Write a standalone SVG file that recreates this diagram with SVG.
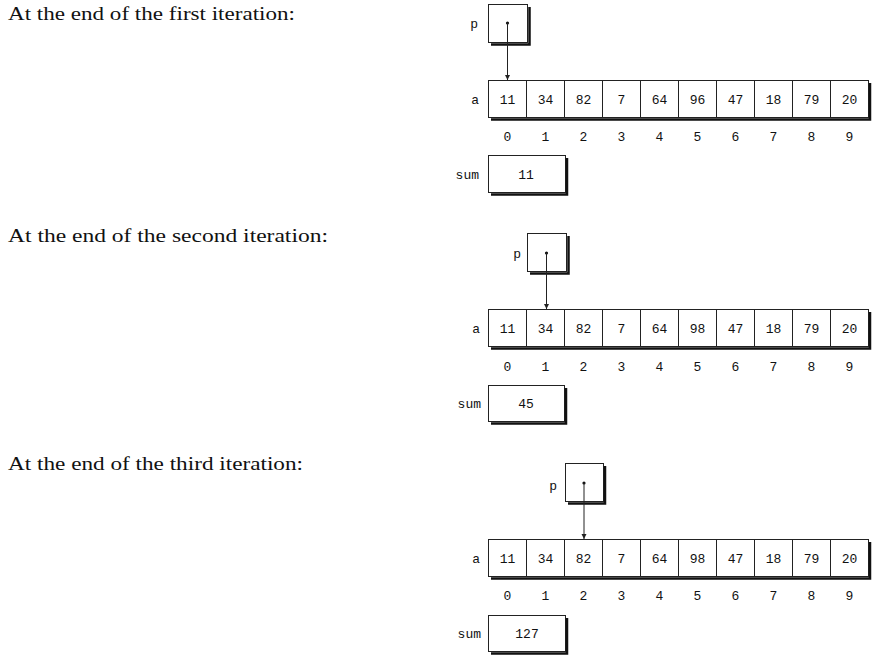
<svg xmlns="http://www.w3.org/2000/svg" width="883" height="658" viewBox="0 0 883 658">
<defs>
<style>
.cap{font-family:"Liberation Serif","Times New Roman",serif;font-size:19.5px;fill:#111}
.m{font-family:"Liberation Mono","Courier New",monospace;font-size:13px;fill:#111;text-anchor:middle}
.lbl{font-family:"Liberation Mono","Courier New",monospace;font-size:13px;fill:#111;text-anchor:end}
.box{fill:#fff;stroke:#222;stroke-width:1}
.sh{fill:none;stroke:#111;stroke-width:2.5}
.div{stroke:#222;stroke-width:1}
.ptr{stroke:#222;stroke-width:1;fill:none}
</style>
<marker id="ah" markerWidth="6" markerHeight="6" refX="5" refY="3" orient="auto" markerUnits="userSpaceOnUse">
<path d="M0,0.5 L5,3 L0,5.5 Z" fill="#222"/>
</marker>
</defs>
<rect width="883" height="658" fill="#fff"/>

<g id="captions">
<text class="cap" x="8" y="20" textLength="287" lengthAdjust="spacingAndGlyphs">At the end of the first iteration:</text>
<text class="cap" x="8" y="242" textLength="320" lengthAdjust="spacingAndGlyphs">At the end of the second iteration:</text>
<text class="cap" x="8" y="470" textLength="295" lengthAdjust="spacingAndGlyphs">At the end of the third iteration:</text>
</g>

<!-- Diagram 1 -->
<g id="p1">
<text class="lbl" x="478" y="28">p</text>
<rect class="box" x="488.5" y="4.5" width="39" height="38"/>
<path class="sh" d="M529.5,7 V44.5 H491"/>
<circle cx="507.5" cy="23" r="1.6" fill="#111"/>
</g>
<g id="a1">
<text class="lbl" x="479" y="104">a</text>
<rect class="box" x="488.5" y="80.5" width="380" height="37"/>
<path class="sh" d="M870,83 V119.5 H491"/>
<path class="div" d="M526.5,80.5V117.5M564.5,80.5V117.5M602.5,80.5V117.5M640.5,80.5V117.5M678.5,80.5V117.5M716.5,80.5V117.5M754.5,80.5V117.5M792.5,80.5V117.5M830.5,80.5V117.5"/>
<g class="m">
<text x="507.5" y="104">11</text><text x="545.5" y="104">34</text><text x="583.5" y="104">82</text><text x="621.5" y="104">7</text><text x="659.5" y="104">64</text><text x="697.5" y="104">96</text><text x="735.5" y="104">47</text><text x="773.5" y="104">18</text><text x="811.5" y="104">79</text><text x="849.5" y="104">20</text>
<text x="507.5" y="141">0</text><text x="545.5" y="141">1</text><text x="583.5" y="141">2</text><text x="621.5" y="141">3</text><text x="659.5" y="141">4</text><text x="697.5" y="141">5</text><text x="735.5" y="141">6</text><text x="773.5" y="141">7</text><text x="811.5" y="141">8</text><text x="849.5" y="141">9</text>
</g>
</g>
<g id="sum1">
<text class="lbl" x="479" y="179">sum</text>
<rect class="box" x="488.5" y="155.5" width="77" height="37"/>
<path class="sh" d="M567,158 V194.5 H491"/>
<text class="m" x="526" y="179">11</text>
</g>

<!-- Diagram 2 -->
<g id="p2">
<text class="lbl" x="521" y="258">p</text>
<rect class="box" x="527.5" y="233.5" width="39" height="38"/>
<path class="sh" d="M568.5,236 V273.5 H530"/>
<circle cx="546.5" cy="253" r="1.6" fill="#111"/>
</g>
<g id="a2">
<text class="lbl" x="480" y="333">a</text>
<rect class="box" x="488.5" y="309.5" width="380" height="37"/>
<path class="sh" d="M870,312 V348.5 H491"/>
<path class="div" d="M526.5,309.5V346.5M564.5,309.5V346.5M602.5,309.5V346.5M640.5,309.5V346.5M678.5,309.5V346.5M716.5,309.5V346.5M754.5,309.5V346.5M792.5,309.5V346.5M830.5,309.5V346.5"/>
<g class="m">
<text x="507.5" y="333">11</text><text x="545.5" y="333">34</text><text x="583.5" y="333">82</text><text x="621.5" y="333">7</text><text x="659.5" y="333">64</text><text x="697.5" y="333">98</text><text x="735.5" y="333">47</text><text x="773.5" y="333">18</text><text x="811.5" y="333">79</text><text x="849.5" y="333">20</text>
<text x="507.5" y="371">0</text><text x="545.5" y="371">1</text><text x="583.5" y="371">2</text><text x="621.5" y="371">3</text><text x="659.5" y="371">4</text><text x="697.5" y="371">5</text><text x="735.5" y="371">6</text><text x="773.5" y="371">7</text><text x="811.5" y="371">8</text><text x="849.5" y="371">9</text>
</g>
</g>
<g id="sum2">
<text class="lbl" x="481" y="408">sum</text>
<rect class="box" x="488.5" y="385.5" width="76" height="36"/>
<path class="sh" d="M566,388 V423.5 H491"/>
<text class="m" x="526" y="408">45</text>
</g>

<!-- Diagram 3 -->
<g id="p3">
<text class="lbl" x="557" y="490">p</text>
<rect class="box" x="565.5" y="463.5" width="38" height="38"/>
<path class="sh" d="M605,466 V503.5 H568"/>
<circle cx="584" cy="483" r="1.6" fill="#111"/>
</g>
<g id="a3">
<text class="lbl" x="480" y="563">a</text>
<rect class="box" x="488.5" y="539.5" width="380" height="37"/>
<path class="sh" d="M870,542 V578.5 H491"/>
<path class="div" d="M526.5,539.5V576.5M564.5,539.5V576.5M602.5,539.5V576.5M640.5,539.5V576.5M678.5,539.5V576.5M716.5,539.5V576.5M754.5,539.5V576.5M792.5,539.5V576.5M830.5,539.5V576.5"/>
<g class="m">
<text x="507.5" y="563">11</text><text x="545.5" y="563">34</text><text x="583.5" y="563">82</text><text x="621.5" y="563">7</text><text x="659.5" y="563">64</text><text x="697.5" y="563">98</text><text x="735.5" y="563">47</text><text x="773.5" y="563">18</text><text x="811.5" y="563">79</text><text x="849.5" y="563">20</text>
<text x="507.5" y="600">0</text><text x="545.5" y="600">1</text><text x="583.5" y="600">2</text><text x="621.5" y="600">3</text><text x="659.5" y="600">4</text><text x="697.5" y="600">5</text><text x="735.5" y="600">6</text><text x="773.5" y="600">7</text><text x="811.5" y="600">8</text><text x="849.5" y="600">9</text>
</g>
</g>
<g id="sum3">
<text class="lbl" x="481" y="638">sum</text>
<rect class="box" x="488.5" y="615.5" width="77" height="36"/>
<path class="sh" d="M567,618 V653.5 H491"/>
<text class="m" x="527" y="638">127</text>
</g>

<g id="connectors">
<line class="ptr" x1="507.5" y1="23" x2="507.5" y2="80" marker-end="url(#ah)"/>
<line class="ptr" x1="546.5" y1="253" x2="546.5" y2="309" marker-end="url(#ah)"/>
<line class="ptr" x1="584" y1="483" x2="584" y2="539" marker-end="url(#ah)"/>
</g>
</svg>
